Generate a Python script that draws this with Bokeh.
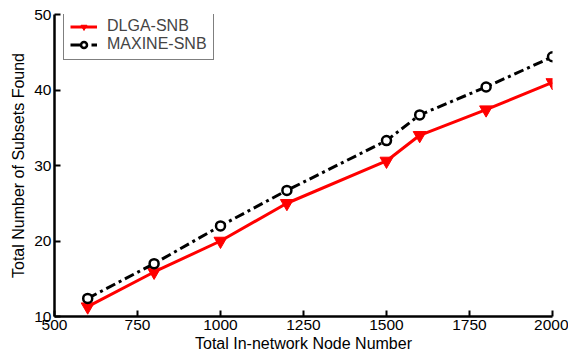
from bokeh.plotting import figure
from bokeh.models import Range1d, FixedTicker, Legend, LegendItem
from bokeh.embed import file_html
from bokeh.resources import INLINE

x_nodes = [600, 800, 1000, 1200, 1500, 1600, 1800, 2000]
dlga = [11.3, 15.9, 20.0, 25.0, 30.6, 34.0, 37.4, 41.0]
maxine = [12.4, 17.0, 22.0, 26.7, 33.3, 36.7, 40.4, 44.4]
x_ticks = [500, 750, 1000, 1250, 1500, 1750, 2000]
y_ticks = [10, 20, 30, 40, 50]

FONT = "Liberation Sans"

p = figure(width=568, height=359, output_backend="svg", toolbar_location=None,
           x_range=Range1d(500, 2000), y_range=Range1d(10, 50),
           min_border_left=54, min_border_right=16, min_border_top=14, min_border_bottom=43)
p.outline_line_color = None
p.xgrid.visible = False
p.ygrid.visible = False
p.background_fill_color = "white"

for ax, ticks in ((p.xaxis[0], x_ticks), (p.yaxis[0], y_ticks)):
    ax.ticker = FixedTicker(ticks=ticks)
    ax.axis_line_width = 2.5
    ax.axis_line_color = "black"
    ax.major_tick_in = 6
    ax.major_tick_out = 0
    ax.major_tick_line_width = 2
    ax.minor_tick_line_color = None
    ax.major_label_text_font = FONT
    ax.major_label_text_font_size = "15.5px"
    ax.major_label_text_color = "black"
    ax.axis_label_text_font = FONT
    ax.axis_label_text_font_size = "16px"
    ax.axis_label_text_font_style = "normal"
    ax.axis_label_text_color = "black"

p.xaxis.axis_label = "Total In-network Node Number"
p.yaxis.axis_label = "Total Number of Subsets Found"
p.xaxis.major_label_standoff = 3
p.xaxis.axis_label_standoff = 2
p.yaxis.major_label_standoff = 3
p.yaxis.axis_label_standoff = 4

l1 = p.line(x_nodes, dlga, line_color="red", line_width=3)
m1 = p.scatter(x_nodes, dlga, marker="inverted_triangle", size=13, fill_color="red", line_color="red")
l2 = p.line(x_nodes, maxine, line_color="black", line_width=3, line_dash="10 4 3 4")
m2 = p.scatter(x_nodes, maxine, marker="circle", size=9, fill_color="white", line_color="black", line_width=2.5)

legend = Legend(items=[LegendItem(label="DLGA-SNB", renderers=[l1, m1]),
                       LegendItem(label="MAXINE-SNB", renderers=[l2, m2])],
                location=(9, 256))
legend.border_line_color = "black"
legend.border_line_width = 1
legend.label_text_font = FONT
legend.label_text_font_size = "16px"
legend.glyph_width = 27
legend.glyph_height = 15
legend.spacing = 0
legend.padding = 6
legend.margin = 0
legend.label_standoff = 10
legend.label_height = 15
legend.background_fill_alpha = 1
p.add_layout(legend)

open("out.html", "w").write(file_html(p, INLINE))
